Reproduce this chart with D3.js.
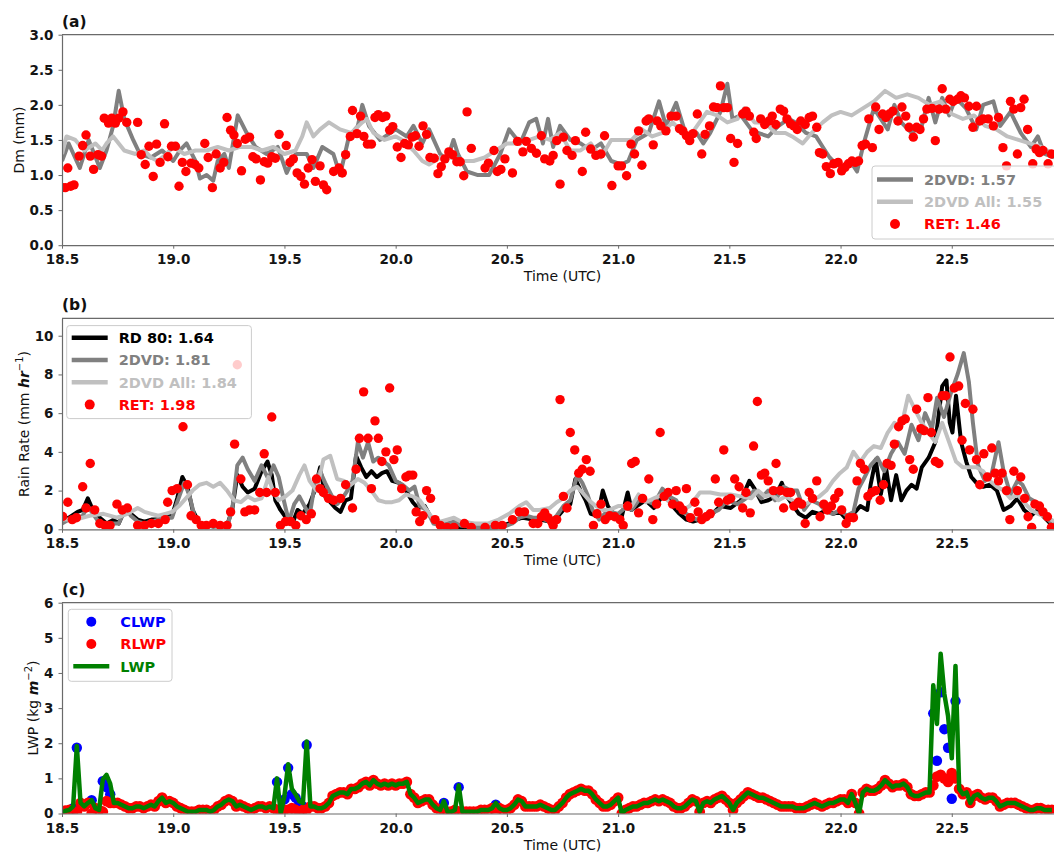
<!DOCTYPE html>
<html>
<head>
<meta charset="utf-8">
<script src="https://cdn.jsdelivr.net/npm/d3@7"></script>
<style>
body { margin: 0; background: #fff; }
text { font-family: 'DejaVu Sans', sans-serif; }
</style>
</head>
<body>
<script>
// ---- data (time in hours UTC) ----
var xTicks = [18.5, 19.0, 19.5, 20.0, 20.5, 21.0, 21.5, 22.0, 22.5];
var dmTicks = [0, 0.5, 1.0, 1.5, 2.0, 2.5, 3.0];
var rrTicks = [0, 2, 4, 6, 8, 10];
var lwpTicks = [0, 1, 2, 3, 4, 5, 6];

var dmLegend = ['2DVD: 1.57', '2DVD All: 1.55', 'RET: 1.46'];
var rrLegend = ['RD 80: 1.64', '2DVD: 1.81', '2DVD All: 1.84', 'RET: 1.98'];
var lwpLegend = ['CLWP', 'RLWP', 'LWP'];

// (a) Dm
var dm2dvd = [[18.50,1.2],[18.53,1.45],[18.58,1.1],[18.62,1.5],[18.67,1.1],[18.70,1.35],[18.73,1.7],[18.755,2.2],[18.78,1.8],[18.82,1.5],[18.85,1.3],[18.90,1.25],[18.95,1.35],[19.00,1.2],[19.03,1.35],[19.06,1.45],[19.10,1.2],[19.12,0.95],[19.15,1.0],[19.18,0.92],[19.20,1.2],[19.23,1.3],[19.25,1.1],[19.29,1.85],[19.33,1.6],[19.37,1.4],[19.42,1.3],[19.47,1.4],[19.51,1.03],[19.55,1.3],[19.60,1.3],[19.63,1.1],[19.67,1.4],[19.72,1.3],[19.75,1.0],[19.79,1.55],[19.83,1.7],[19.85,2.0],[19.88,1.7],[19.93,1.5],[20.00,1.65],[20.05,1.55],[20.08,1.7],[20.12,1.45],[20.15,1.65],[20.20,1.3],[20.23,1.2],[20.26,1.5],[20.28,1.3],[20.32,1.05],[20.37,1.0],[20.42,1.0],[20.47,1.3],[20.51,1.65],[20.56,1.45],[20.60,1.75],[20.632,1.8],[20.662,1.45],[20.685,1.8],[20.708,1.4],[20.739,1.7],[20.785,1.5],[20.831,1.45],[20.877,1.35],[20.923,1.45],[20.969,1.2],[21.015,1.15],[21.046,1.2],[21.084,1.5],[21.138,1.6],[21.184,2.05],[21.215,1.7],[21.261,2.03],[21.307,1.55],[21.353,1.6],[21.383,1.45],[21.414,1.6],[21.46,1.9],[21.491,2.3],[21.514,1.8],[21.552,1.85],[21.598,1.65],[21.629,1.6],[21.675,1.55],[21.721,1.7],[21.767,1.8],[21.798,1.75],[21.844,1.6],[21.89,1.55],[21.92,1.4],[21.951,1.25],[21.982,1.15],[22.012,1.1],[22.043,1.2],[22.074,1.05],[22.104,1.45],[22.15,1.95],[22.181,1.8],[22.212,1.65],[22.242,2.0],[22.273,1.75],[22.319,1.6],[22.365,1.7],[22.396,2.1],[22.426,1.75],[22.457,2.1],[22.488,1.85],[22.518,2.1],[22.564,1.95],[22.61,1.65],[22.641,2.0],[22.687,2.05],[22.718,1.7],[22.764,1.9],[22.81,1.6],[22.856,1.4],[22.887,1.55],[22.917,1.3],[22.96,1.25]];

var dm2dvdAll = [[18.50,1.3],[18.52,1.55],[18.56,1.5],[18.60,1.35],[18.65,1.45],[18.68,1.35],[18.70,1.45],[18.73,1.55],[18.78,1.35],[18.83,1.3],[18.87,1.35],[18.90,1.25],[18.93,1.2],[18.97,1.3],[19.00,1.4],[19.05,1.3],[19.10,1.35],[19.15,1.35],[19.20,1.4],[19.25,1.35],[19.30,1.4],[19.35,1.4],[19.40,1.35],[19.45,1.4],[19.50,1.3],[19.55,1.35],[19.58,1.55],[19.60,1.75],[19.63,1.55],[19.66,1.65],[19.70,1.75],[19.75,1.65],[19.80,1.6],[19.85,1.75],[19.87,1.8],[19.90,1.6],[19.95,1.5],[20.00,1.55],[20.03,1.5],[20.08,1.35],[20.12,1.2],[20.15,1.15],[20.20,1.25],[20.25,1.25],[20.30,1.2],[20.35,1.2],[20.40,1.25],[20.45,1.35],[20.50,1.45],[20.55,1.45],[20.601,1.5],[20.647,1.55],[20.693,1.5],[20.739,1.6],[20.785,1.35],[20.831,1.35],[20.877,1.45],[20.923,1.25],[20.969,1.5],[21.015,1.5],[21.061,1.5],[21.107,1.65],[21.153,1.55],[21.199,1.6],[21.245,1.75],[21.276,1.65],[21.322,1.55],[21.399,1.9],[21.445,1.85],[21.491,1.75],[21.537,1.8],[21.567,1.95],[21.613,1.75],[21.66,1.75],[21.706,1.6],[21.752,1.6],[21.782,1.55],[21.83,1.45],[21.87,1.6],[21.92,1.75],[21.96,1.85],[22.00,1.9],[22.05,1.85],[22.10,1.95],[22.15,2.05],[22.20,2.2],[22.25,2.1],[22.30,2.15],[22.35,2.1],[22.40,2.0],[22.45,2.05],[22.50,1.87],[22.55,1.8],[22.60,1.85],[22.65,1.7],[22.70,1.65],[22.75,1.55],[22.80,1.5],[22.85,1.45],[22.90,1.4],[22.96,1.3]];

var dmRet = [[18.50,0.82],[18.515,0.82],[18.526,1.10],[18.539,0.84],[18.554,0.86],[18.577,1.27],[18.593,1.42],[18.608,1.57],[18.627,1.27],[18.642,1.08],[18.662,1.29],[18.678,1.27],[18.690,1.81],[18.709,1.74],[18.724,1.81],[18.740,1.74],[18.755,1.81],[18.774,1.90],[18.791,1.75],[18.840,1.75],[18.856,1.29],[18.874,1.15],[18.891,1.41],[18.910,0.98],[18.925,1.44],[18.941,1.18],[18.961,1.73],[18.976,1.26],[18.992,1.41],[19.010,1.41],[19.026,0.84],[19.041,1.18],[19.057,1.05],[19.080,1.17],[19.098,1.15],[19.115,1.10],[19.142,1.45],[19.157,1.25],[19.176,0.82],[19.193,1.30],[19.211,1.10],[19.227,1.18],[19.242,1.82],[19.258,1.64],[19.273,1.57],[19.288,1.45],[19.307,1.06],[19.324,1.51],[19.343,1.54],[19.358,1.26],[19.373,1.23],[19.392,0.93],[19.409,1.19],[19.425,1.17],[19.443,1.26],[19.459,1.24],[19.476,1.58],[19.508,1.42],[19.525,1.18],[19.540,1.23],[19.557,1.03],[19.574,0.98],[19.590,0.87],[19.607,1.10],[19.624,1.22],[19.639,0.91],[19.660,1.13],[19.675,0.86],[19.690,0.79],[19.721,1.05],[19.745,1.10],[19.760,1.03],[19.775,1.29],[19.796,1.55],[19.806,1.92],[19.826,1.59],[19.842,1.84],[19.857,1.55],[19.873,1.44],[19.891,1.44],[19.907,1.82],[19.922,1.86],[19.941,1.82],[19.956,1.84],[19.973,1.64],[19.987,1.69],[20.007,1.40],[20.024,1.25],[20.040,1.45],[20.057,1.43],[20.074,1.54],[20.089,1.56],[20.105,1.41],[20.123,1.70],[20.139,1.58],[20.154,1.25],[20.173,1.24],[20.190,1.02],[20.205,1.12],[20.221,1.23],[20.239,1.33],[20.256,1.29],[20.275,1.19],[20.290,1.19],[20.306,0.99],[20.321,1.90],[20.340,1.38],[20.402,1.10],[20.417,1.17],[20.442,1.35],[20.457,1.05],[20.473,1.08],[20.491,1.23],[20.525,1.03],[20.548,1.48],[20.572,1.33],[20.587,1.48],[20.610,1.38],[20.633,1.31],[20.655,1.56],[20.670,1.23],[20.693,1.20],[20.708,1.28],[20.724,1.49],[20.739,0.87],[20.754,1.54],[20.770,1.35],[20.793,1.28],[20.808,1.49],[20.839,1.05],[20.854,1.61],[20.877,1.37],[20.900,1.28],[20.923,1.30],[20.939,1.56],[20.972,0.85],[21.000,1.13],[21.015,1.13],[21.038,0.99],[21.058,1.44],[21.074,1.30],[21.092,1.63],[21.107,1.14],[21.126,1.77],[21.138,1.80],[21.158,1.43],[21.176,1.77],[21.192,1.70],[21.215,1.63],[21.238,1.84],[21.261,1.84],[21.276,1.66],[21.291,1.63],[21.307,1.56],[21.322,1.49],[21.337,1.59],[21.356,1.87],[21.376,1.30],[21.391,1.58],[21.411,1.70],[21.429,1.97],[21.445,1.96],[21.460,2.27],[21.475,1.96],[21.491,1.96],[21.506,1.52],[21.521,1.18],[21.537,1.45],[21.560,1.87],[21.575,1.91],[21.590,1.84],[21.610,1.61],[21.621,1.52],[21.641,1.80],[21.659,1.72],[21.678,1.77],[21.693,1.84],[21.709,1.72],[21.729,1.94],[21.744,1.91],[21.759,1.80],[21.775,1.73],[21.790,1.70],[21.805,1.65],[21.821,1.77],[21.841,1.72],[21.859,1.82],[21.874,1.84],[21.893,1.68],[21.905,1.32],[21.920,1.30],[21.936,1.12],[21.954,1.02],[21.969,1.16],[21.989,1.18],[22.005,1.06],[22.020,1.11],[22.035,1.16],[22.051,1.20],[22.066,1.18],[22.081,1.20],[22.097,1.42],[22.112,1.44],[22.127,1.80],[22.143,1.39],[22.158,1.97],[22.173,1.65],[22.189,1.87],[22.204,1.82],[22.219,1.87],[22.235,1.91],[22.258,1.77],[22.276,1.97],[22.293,1.84],[22.308,1.68],[22.327,1.54],[22.342,1.68],[22.357,1.65],[22.373,1.80],[22.388,1.94],[22.411,1.95],[22.426,1.49],[22.442,1.94],[22.457,2.23],[22.473,1.94],[22.491,2.08],[22.506,2.05],[22.526,2.08],[22.541,2.13],[22.557,2.10],[22.577,1.98],[22.595,1.68],[22.611,1.98],[22.626,1.77],[22.641,1.80],[22.664,1.80],[22.687,1.70],[22.710,1.82],[22.730,1.39],[22.746,1.13],[22.764,2.05],[22.779,1.94],[22.795,1.30],[22.810,1.96],[22.825,2.08],[22.841,1.65],[22.864,1.16],[22.879,1.37],[22.894,1.32],[22.910,1.35],[22.933,1.16],[22.948,1.30]];

// (b) rain rate
var rrRd80 = [[18.500,0.5],[18.531,0.6],[18.570,0.9],[18.593,1.0],[18.616,1.6],[18.639,1.0],[18.670,0.6],[18.701,0.3],[18.732,0.5],[18.755,0.3],[18.786,1.1],[18.809,0.8],[18.840,0.5],[18.871,0.4],[18.902,0.5],[18.933,0.5],[18.964,0.7],[18.995,0.7],[19.018,1.6],[19.041,2.7],[19.064,2.2],[19.087,1.0],[19.118,0.3],[19.149,0.2],[19.180,0.15],[19.211,0.2],[19.242,0.2],[19.265,1.0],[19.288,2.8],[19.312,2.2],[19.335,1.9],[19.366,2.1],[19.397,3.0],[19.424,3.5],[19.443,2.8],[19.459,1.5],[19.482,1.0],[19.513,0.5],[19.536,0.3],[19.559,1.0],[19.582,0.8],[19.613,1.3],[19.636,2.0],[19.660,3.2],[19.683,1.7],[19.706,1.4],[19.729,1.1],[19.752,0.9],[19.775,1.5],[19.799,1.6],[19.822,3.8],[19.845,3.2],[19.868,2.7],[19.891,3.0],[19.915,2.7],[19.938,2.9],[19.961,3.0],[19.984,2.5],[20.015,2.4],[20.046,2.0],[20.077,1.4],[20.100,1.1],[20.131,1.2],[20.154,0.7],[20.185,0.3],[20.232,0.1],[20.309,0.1],[20.386,0.05],[20.463,0.1],[20.510,0.3],[20.541,0.5],[20.572,0.6],[20.618,0.5],[20.647,0.5],[20.693,0.4],[20.724,0.6],[20.754,1.0],[20.785,1.3],[20.808,2.6],[20.831,2.0],[20.854,1.5],[20.877,0.8],[20.908,0.7],[20.931,2.0],[20.954,1.2],[20.985,0.7],[21.015,0.6],[21.043,1.9],[21.061,1.0],[21.084,1.2],[21.123,1.5],[21.161,1.1],[21.192,1.6],[21.215,1.8],[21.245,1.2],[21.276,0.8],[21.307,0.5],[21.337,0.4],[21.368,0.5],[21.414,0.7],[21.460,1.2],[21.506,1.1],[21.552,1.5],[21.590,2.5],[21.613,2.1],[21.644,1.4],[21.675,1.5],[21.706,1.7],[21.736,2.4],[21.759,1.7],[21.782,1.3],[21.813,0.8],[21.844,0.6],[21.874,0.9],[21.905,0.8],[21.936,1.0],[21.966,0.8],[21.997,0.9],[22.028,0.5],[22.058,0.8],[22.089,1.2],[22.120,1.0],[22.135,2.3],[22.158,3.6],[22.181,1.8],[22.204,3.2],[22.227,1.5],[22.250,2.8],[22.273,1.5],[22.296,2.0],[22.319,2.3],[22.342,2.1],[22.365,3.2],[22.396,3.7],[22.426,4.5],[22.457,7.4],[22.476,7.7],[22.491,5.5],[22.503,5.0],[22.519,6.9],[22.542,4.5],[22.565,3.5],[22.588,2.7],[22.611,2.4],[22.641,2.2],[22.672,2.3],[22.703,2.0],[22.733,1.0],[22.764,1.2],[22.795,1.6],[22.825,1.0],[22.856,0.7],[22.887,1.0],[22.917,0.6],[22.960,0.1]];

var rr2dvd = [[18.500,0.3],[18.531,0.5],[18.562,0.5],[18.593,0.7],[18.616,1.2],[18.639,0.8],[18.670,0.3],[18.701,0.3],[18.732,0.3],[18.755,0.3],[18.786,1.1],[18.809,0.7],[18.840,0.4],[18.871,0.3],[18.902,0.4],[18.933,0.5],[18.964,0.6],[18.995,0.6],[19.018,1.4],[19.049,2.4],[19.072,1.8],[19.095,0.7],[19.118,0.3],[19.180,0.15],[19.242,0.15],[19.265,1.0],[19.288,3.3],[19.312,3.7],[19.335,3.1],[19.366,2.5],[19.397,3.3],[19.428,2.6],[19.451,3.3],[19.474,2.7],[19.497,1.5],[19.520,0.4],[19.544,1.3],[19.567,1.7],[19.590,1.2],[19.613,0.7],[19.636,2.3],[19.660,3.0],[19.683,2.4],[19.714,1.7],[19.737,1.3],[19.760,1.6],[19.783,2.0],[19.806,2.5],[19.830,4.5],[19.853,3.7],[19.876,4.5],[19.899,3.5],[19.922,3.7],[19.946,3.5],[19.969,3.3],[20.000,2.5],[20.031,2.3],[20.061,2.0],[20.085,2.2],[20.108,1.2],[20.139,1.0],[20.170,0.3],[20.201,0.2],[20.232,0.3],[20.262,0.4],[20.293,0.2],[20.355,0.1],[20.417,0.1],[20.479,0.1],[20.525,0.3],[20.556,0.6],[20.587,0.7],[20.618,0.6],[20.647,0.6],[20.693,0.4],[20.724,0.7],[20.754,1.2],[20.785,1.5],[20.816,2.8],[20.839,2.4],[20.862,1.8],[20.885,1.0],[20.915,0.5],[20.939,0.8],[20.969,0.9],[21.000,0.8],[21.031,1.1],[21.061,1.0],[21.092,1.5],[21.123,1.5],[21.161,1.3],[21.199,2.1],[21.230,1.7],[21.261,1.5],[21.291,0.9],[21.322,0.7],[21.353,0.5],[21.383,0.7],[21.414,0.8],[21.452,1.0],[21.491,1.5],[21.537,1.3],[21.575,1.6],[21.613,2.0],[21.644,1.6],[21.675,2.0],[21.706,1.5],[21.744,2.2],[21.775,2.0],[21.805,2.0],[21.836,1.0],[21.867,1.5],[21.905,1.3],[21.936,0.9],[21.966,0.8],[21.997,1.0],[22.028,0.7],[22.058,0.9],[22.081,2.1],[22.104,2.6],[22.135,3.3],[22.166,3.7],[22.196,3.0],[22.227,3.9],[22.258,4.5],[22.288,3.9],[22.319,5.4],[22.350,4.6],[22.380,6.0],[22.411,5.2],[22.434,6.8],[22.465,5.8],[22.495,7.0],[22.526,8.0],[22.554,9.1],[22.577,7.6],[22.595,5.5],[22.618,3.3],[22.649,2.5],[22.680,2.9],[22.710,4.5],[22.733,3.0],[22.764,1.8],[22.795,2.5],[22.818,2.3],[22.848,1.6],[22.879,1.4],[22.902,0.9],[22.933,0.5],[22.960,0.2]];

var rr2dvdAll = [[18.500,0.5],[18.562,0.5],[18.624,0.7],[18.686,0.8],[18.747,0.6],[18.794,0.8],[18.840,1.1],[18.871,0.9],[18.902,0.8],[18.933,0.7],[18.964,0.8],[18.995,0.9],[19.026,1.2],[19.057,1.6],[19.087,2.0],[19.118,2.3],[19.149,2.4],[19.180,2.2],[19.211,2.4],[19.242,2.0],[19.273,1.5],[19.304,1.4],[19.335,1.7],[19.366,1.5],[19.397,1.6],[19.428,2.7],[19.451,1.9],[19.474,1.5],[19.505,1.7],[19.536,2.0],[19.567,2.8],[19.590,3.3],[19.613,2.5],[19.644,2.0],[19.675,3.6],[19.706,3.8],[19.737,2.6],[19.768,2.5],[19.799,2.3],[19.830,2.6],[19.860,2.4],[19.891,2.0],[19.922,1.5],[19.953,1.4],[19.984,1.4],[20.015,1.5],[20.046,1.8],[20.077,1.7],[20.108,1.5],[20.139,1.0],[20.170,0.5],[20.201,0.4],[20.232,0.5],[20.262,0.6],[20.293,0.4],[20.355,0.3],[20.417,0.3],[20.463,0.5],[20.510,0.8],[20.556,1.2],[20.587,1.4],[20.618,1.0],[20.647,1.0],[20.693,1.1],[20.724,1.4],[20.754,1.6],[20.785,2.0],[20.816,2.2],[20.839,1.9],[20.869,1.5],[20.900,1.2],[20.931,1.0],[20.962,1.0],[21.000,1.2],[21.031,1.2],[21.061,1.2],[21.092,1.8],[21.123,1.4],[21.161,1.6],[21.199,1.8],[21.230,1.4],[21.261,1.3],[21.291,1.0],[21.322,1.2],[21.368,1.9],[21.414,1.9],[21.460,1.8],[21.506,1.8],[21.552,1.7],[21.598,1.6],[21.629,2.0],[21.660,1.7],[21.690,1.8],[21.721,1.5],[21.752,1.7],[21.782,1.5],[21.813,1.3],[21.844,1.3],[21.874,1.5],[21.905,1.7],[21.936,2.0],[21.966,2.5],[21.997,2.9],[22.028,3.2],[22.058,4.0],[22.089,3.5],[22.120,4.0],[22.150,4.3],[22.181,4.2],[22.212,5.0],[22.242,5.5],[22.273,5.3],[22.304,6.9],[22.334,6.2],[22.365,5.5],[22.396,5.0],[22.426,4.5],[22.457,5.5],[22.488,4.5],[22.519,3.5],[22.549,3.2],[22.580,3.2],[22.611,3.2],[22.641,3.0],[22.672,2.5],[22.703,2.2],[22.733,2.0],[22.764,1.6],[22.795,1.8],[22.825,1.4],[22.856,1.0],[22.887,0.8],[22.933,0.6],[22.960,0.4]];

var rrRet = [[18.503,0.66],[18.526,1.4],[18.546,0.5],[18.565,0.6],[18.593,2.2],[18.608,1.1],[18.627,3.4],[18.647,1.0],[18.670,0.3],[18.693,0.2],[18.716,0.2],[18.747,1.3],[18.771,1.0],[18.794,1.1],[18.840,0.2],[18.871,0.2],[18.902,0.3],[18.933,0.3],[18.964,0.5],[18.975,1.4],[18.995,2.0],[19.018,2.1],[19.044,5.3],[19.064,2.3],[19.080,0.7],[19.103,0.5],[19.126,0.2],[19.149,0.2],[19.180,0.3],[19.211,0.2],[19.242,0.2],[19.258,0.9],[19.276,4.4],[19.288,8.5],[19.304,2.6],[19.322,0.9],[19.343,1.0],[19.366,1.0],[19.389,1.9],[19.409,3.9],[19.420,1.9],[19.443,5.8],[19.459,1.9],[19.482,0.2],[19.505,0.4],[19.528,0.4],[19.551,0.2],[19.574,0.7],[19.598,0.5],[19.621,0.8],[19.644,2.6],[19.660,2.1],[19.675,1.9],[19.698,1.6],[19.721,1.5],[19.752,1.6],[19.775,2.3],[19.806,1.1],[19.822,3.1],[19.837,4.7],[19.856,7.1],[19.876,4.7],[19.891,2.1],[19.907,5.6],[19.922,4.7],[19.938,3.5],[19.956,4.0],[19.973,7.3],[19.992,3.6],[20.007,4.1],[20.027,2.1],[20.046,2.7],[20.061,2.8],[20.077,2.8],[20.092,0.9],[20.108,0.4],[20.123,0.7],[20.139,2.0],[20.157,1.6],[20.177,0.5],[20.201,0.2],[20.232,0.1],[20.262,0.1],[20.309,0.3],[20.340,0.1],[20.402,0.1],[20.448,0.2],[20.479,0.2],[20.525,0.5],[20.556,0.9],[20.579,0.9],[20.618,0.3],[20.639,0.3],[20.655,0.65],[20.670,0.85],[20.685,0.6],[20.701,0.4],[20.708,0.2],[20.724,0.5],[20.739,6.7],[20.754,1.7],[20.770,1.1],[20.785,5.0],[20.805,4.1],[20.823,2.9],[20.839,3.1],[20.857,3.6],[20.874,3.0],[20.889,0.2],[20.905,0.8],[20.923,1.3],[20.942,0.5],[20.962,0.7],[20.985,0.65],[21.008,0.5],[21.023,0.2],[21.043,1.2],[21.061,3.4],[21.077,3.5],[21.092,0.85],[21.110,1.6],[21.138,2.6],[21.156,0.5],[21.173,1.3],[21.189,5.0],[21.207,1.7],[21.225,1.9],[21.245,1.3],[21.261,2.0],[21.276,1.2],[21.291,1.0],[21.307,2.1],[21.325,0.6],[21.345,1.4],[21.360,0.9],[21.376,0.5],[21.396,0.65],[21.414,0.8],[21.437,2.6],[21.452,1.4],[21.475,4.1],[21.491,1.5],[21.506,1.6],[21.524,2.6],[21.544,2.2],[21.560,1.1],[21.575,1.9],[21.594,0.85],[21.609,4.3],[21.626,6.6],[21.644,2.8],[21.659,2.9],[21.675,2.5],[21.698,2.0],[21.710,3.4],[21.729,2.0],[21.744,1.1],[21.759,1.9],[21.775,1.9],[21.790,1.2],[21.810,1.4],[21.825,1.3],[21.841,0.3],[21.859,1.9],[21.874,1.6],[21.893,2.5],[21.908,0.65],[21.925,1.3],[21.940,1.0],[21.959,1.2],[21.974,1.6],[21.992,1.9],[22.005,1.0],[22.025,0.3],[22.040,0.6],[22.058,0.6],[22.074,2.5],[22.089,3.4],[22.107,3.1],[22.123,1.7],[22.140,1.9],[22.158,2.0],[22.178,1.5],[22.193,2.3],[22.209,3.4],[22.227,3.3],[22.242,4.4],[22.261,5.3],[22.276,5.6],[22.291,5.7],[22.311,3.6],[22.327,3.1],[22.342,6.2],[22.361,5.2],[22.376,5.1],[22.393,6.8],[22.408,5.0],[22.426,3.5],[22.442,3.4],[22.457,6.9],[22.473,6.9],[22.492,8.9],[22.511,7.3],[22.531,7.4],[22.546,4.6],[22.561,6.5],[22.580,4.1],[22.595,6.2],[22.611,3.6],[22.626,2.3],[22.644,3.9],[22.660,2.7],[22.680,4.2],[22.695,2.9],[22.710,2.5],[22.726,2.9],[22.746,2.0],[22.761,0.5],[22.779,3.0],[22.795,2.0],[22.810,2.7],[22.828,1.6],[22.843,0.65],[22.859,0.1],[22.874,1.3],[22.894,1.2],[22.910,0.9],[22.930,0.65],[22.948,0.1]];

// (c) liquid water path, one value per minute from 18.5 UTC
var lwpStart = 18.5;
var rlwp = [
  0.02,0.08,0.1,0.05,0.05,0.3,0.2,0.3,0.0,0.15,
  0.1,0.05,0.35,0.3,0.3,0.3,0.25,0.2,0.15,0.15,
  0.2,0.2,0.15,0.2,0.25,0.2,0.35,0.45,0.3,0.35,
  0.3,0.2,0.15,0.1,0.05,0.05,0.05,0.1,0.1,0.1,
  0.05,0.1,0.2,0.25,0.35,0.4,0.35,0.2,0.25,0.2,
  0.15,0.1,0.15,0.2,0.2,0.15,0.2,0.15,0.1,0.0,
  0.1,0.1,0.15,0.1,0.05,0.1,0.1,0.2,0.2,0.15,
  0.15,0.2,0.3,0.5,0.55,0.6,0.6,0.55,0.7,0.7,
  0.75,0.85,0.9,0.8,0.95,0.85,0.8,0.85,0.8,0.85,
  0.8,0.85,0.85,0.9,0.55,0.45,0.3,0.35,0.4,0.4,
  0.25,0.15,0.1,0.05,0.05,0.05,0.1,0.05,0.05,0.05,
  0.05,0.05,0.05,0.1,0.1,0.1,0.15,0.05,0.15,0.1,
  0.1,0.15,0.25,0.4,0.35,0.2,0.2,0.2,0.2,0.25,
  0.2,0.15,0.1,0.1,0.2,0.3,0.45,0.55,0.6,0.65,
  0.7,0.65,0.65,0.55,0.4,0.3,0.2,0.2,0.25,0.35,
  0.45,0.0,0.1,0.15,0.2,0.2,0.25,0.3,0.3,0.35,
  0.4,0.35,0.4,0.35,0.3,0.2,0.15,0.15,0.2,0.3,
  0.4,0.35,0.05,0.3,0.35,0.3,0.4,0.45,0.5,0.4,
  0.3,0.1,0.3,0.4,0.5,0.6,0.55,0.5,0.45,0.45,
  0.4,0.35,0.3,0.25,0.2,0.2,0.2,0.2,0.15,0.15,
  0.15,0.2,0.25,0.3,0.25,0.2,0.25,0.3,0.3,0.35,
  0.4,0.4,0.3,0.55,0.3,0.0,0.6,0.7,0.65,0.65,
  0.7,0.8,0.95,0.85,0.75,0.8,0.8,0.85,0.75,0.55,
  0.5,0.5,0.55,0.6,0.6,0.8,1.05,1.1,1.0,0.9,
  1.15,1.0,0.7,0.55,0.6,0.3,0.5,0.55,0.45,0.4,
  0.45,0.45,0.35,0.2,0.25,0.3,0.3,0.3,0.25,0.2,
  0.15,0.1,0.1,0.15,0.15,0.1,0.1,0.1
];
var clwp = [[18.55,0.15],[18.5667,1.87],[18.6333,0.38],[18.6833,0.92],[18.70,0.75],[18.7167,0.55],[19.4667,0.9],[19.50,0.4],[19.5167,1.3],[19.5333,0.55],[19.55,0.45],[19.5667,0.3],[19.5833,0.2],[19.60,1.95],[20.2167,0.3],[20.2833,0.75],[20.45,0.25],[22.4167,2.85],[22.4333,1.5],[22.45,3.45],[22.4667,2.4],[22.4833,1.87],[22.50,0.42],[22.5167,3.2]];

// ---- drawing ----
var svgWidth = 1054;
var svgHeight = 852;
var plotLeft = 62;

var svg = d3.select('body').append('svg')
    .attr('width', svgWidth)
    .attr('height', svgHeight);

var xScale = d3.scaleLinear()
    .domain([18.5, 23.0])
    .range([plotLeft, 1063]);

var fmt1 = d3.format('.1f');

function styleAxis(ax) {
  ax.attr('font-family', 'DejaVu Sans').attr('font-size', 13.5).attr('font-weight', 'bold');
  ax.select('.domain').attr('stroke', '#6a6a6a').attr('stroke-width', 1.2);
  ax.selectAll('.tick line').attr('stroke', '#6a6a6a');
  ax.selectAll('.tick text').attr('fill', '#151515');
}

function makePanel(id, top, bottom, yMax, ticks, tickFmt, tag) {
  var yScale = d3.scaleLinear().domain([0, yMax]).range([bottom, top]);

  svg.append('clipPath').attr('id', id)
    .append('rect')
      .attr('x', plotLeft)
      .attr('y', top)
      .attr('width', xScale.range()[1] - plotLeft)
      .attr('height', bottom - top);

  var plot = svg.append('g').attr('clip-path', 'url(#' + id + ')');

  svg.append('line')
    .attr('x1', plotLeft).attr('x2', xScale.range()[1])
    .attr('y1', top).attr('y2', top)
    .attr('stroke', '#6a6a6a').attr('stroke-width', 1.2);

  var xAxis = svg.append('g')
    .attr('transform', 'translate(0,' + bottom + ')')
    .call(d3.axisBottom(xScale).tickValues(xTicks).tickFormat(fmt1)
      .tickSize(3.5).tickSizeOuter(0).tickPadding(6));
  styleAxis(xAxis);

  var yAxis = svg.append('g')
    .attr('transform', 'translate(' + plotLeft + ',0)')
    .call(d3.axisLeft(yScale).tickValues(ticks).tickFormat(tickFmt)
      .tickSize(3.5).tickSizeOuter(0).tickPadding(5));
  styleAxis(yAxis);

  svg.append('text')
    .attr('x', (plotLeft + xScale.range()[1]) / 2)
    .attr('y', bottom + 36)
    .attr('text-anchor', 'middle')
    .attr('font-size', 14)
    .attr('fill', '#111')
    .text('Time (UTC)');

  svg.append('text')
    .attr('x', plotLeft)
    .attr('y', top - 8)
    .attr('font-size', 15.5)
    .attr('font-weight', 'bold')
    .attr('fill', '#111')
    .text(tag);

  return {y: yScale, plot: plot};
}

function yLabel(xPos, yMid) {
  return svg.append('text')
    .attr('transform', 'translate(' + xPos + ',' + yMid + ') rotate(-90)')
    .attr('text-anchor', 'middle')
    .attr('font-size', 14)
    .attr('fill', '#111');
}

function drawLine(p, data, color, width) {
  var line = d3.line()
    .x(function(d) { return xScale(d[0]); })
    .y(function(d) { return p.y(d[1]); });
  p.plot.append('path')
    .attr('d', line(data))
    .attr('fill', 'none')
    .attr('stroke', color)
    .attr('stroke-width', width)
    .attr('stroke-linejoin', 'round');
}

function drawDots(p, data, color, r) {
  p.plot.append('g').selectAll('circle')
    .data(data)
    .enter()
    .append('circle')
      .attr('cx', function(d) { return xScale(d[0]); })
      .attr('cy', function(d) { return p.y(d[1]); })
      .attr('r', r)
      .attr('fill', color);
}

function drawLegend(box, rowY, items) {
  var g = svg.append('g');
  g.append('rect')
    .attr('x', box[0]).attr('y', box[1])
    .attr('width', box[2]).attr('height', box[3])
    .attr('rx', 3)
    .attr('fill', '#fff').attr('fill-opacity', 0.8)
    .attr('stroke', '#cccccc').attr('stroke-width', 1);
  items.forEach(function(it, i) {
    var yy = rowY[i];
    if (it.kind === 'line') {
      g.append('line')
        .attr('x1', box[0] + 5).attr('x2', box[0] + 41)
        .attr('y1', yy).attr('y2', yy)
        .attr('stroke', it.color).attr('stroke-width', 4.5);
    } else {
      g.append('circle')
        .attr('cx', box[0] + 23).attr('cy', yy).attr('r', 5)
        .attr('fill', it.color);
    }
    g.append('text')
      .attr('x', box[0] + 52)
      .attr('y', yy + 5.2)
      .attr('font-size', 14.5)
      .attr('font-weight', 'bold')
      .attr('fill', it.color)
      .text(it.label);
  });
}

// (a)
var pA = makePanel('clipA', 34.7, 245.2, 3.0, dmTicks, fmt1, '(a)');
drawLine(pA, dm2dvd, '#808080', 4);
drawLine(pA, dm2dvdAll, '#c0c0c0', 4);
drawDots(pA, dmRet, '#ff0000', 4.7);
yLabel(24, 140).text('Dm (mm)');
drawLegend([872, 166, 200, 73], [179.5, 201.7, 224], [
  {kind: 'line', color: '#808080', label: dmLegend[0]},
  {kind: 'line', color: '#c0c0c0', label: dmLegend[1]},
  {kind: 'dot', color: '#ff0000', label: dmLegend[2]}
]);

// (b)
var pB = makePanel('clipB', 318.3, 529.3, 10.9, rrTicks, d3.format('d'), '(b)');
drawLine(pB, rrRd80, '#000000', 4);
drawLine(pB, rr2dvd, '#808080', 4);
drawLine(pB, rr2dvdAll, '#c0c0c0', 4);
drawDots(pB, rrRet, '#ff0000', 4.7);
var rrLab = yLabel(29, 424);
rrLab.append('tspan').text('Rain Rate (mm ');
rrLab.append('tspan').attr('font-weight', 'bold').attr('font-style', 'italic').text('hr');
rrLab.append('tspan').attr('font-size', 10).attr('dy', -6).text('\u22121');
rrLab.append('tspan').attr('dy', 6).text(')');
drawLegend([66.7, 325.6, 184.7, 93], [337.7, 360, 382.3, 404.6], [
  {kind: 'line', color: '#000000', label: rrLegend[0]},
  {kind: 'line', color: '#808080', label: rrLegend[1]},
  {kind: 'line', color: '#c0c0c0', label: rrLegend[2]},
  {kind: 'dot', color: '#ff0000', label: rrLegend[3]}
]);

// (c)
var pC = makePanel('clipC', 602.7, 813.5, 6.0, lwpTicks, d3.format('d'), '(c)');
var clwpByMinute = {};
clwp.forEach(function(d) { clwpByMinute[Math.round((d[0] - lwpStart) * 60)] = d[1]; });
var rlwpPts = rlwp.map(function(v, i) { return [lwpStart + i / 60, v]; });
var lwpPts = rlwp.map(function(v, i) { return [lwpStart + i / 60, v + (clwpByMinute[i] || 0)]; });
drawDots(pC, clwp, '#0000ff', 5.2);
drawDots(pC, rlwpPts, '#ff0000', 5.4);
drawLine(pC, lwpPts, '#008000', 4.5);
var lwpLab = yLabel(37.5, 708);
lwpLab.append('tspan').text('LWP (kg ');
lwpLab.append('tspan').attr('font-weight', 'bold').attr('font-style', 'italic').text('m');
lwpLab.append('tspan').attr('font-size', 10).attr('dy', -6).text('\u22122');
lwpLab.append('tspan').attr('dy', 6).text(')');
drawLegend([68.3, 609.3, 103.7, 72], [621.7, 644, 666.3], [
  {kind: 'dot', color: '#0000ff', label: lwpLegend[0]},
  {kind: 'dot', color: '#ff0000', label: lwpLegend[1]},
  {kind: 'line', color: '#008000', label: lwpLegend[2]}
]);
</script>
</body>
</html>
